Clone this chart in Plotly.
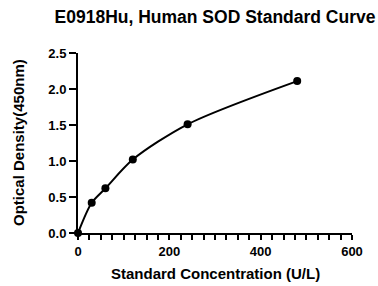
import plotly.graph_objects as go

concentration = [0, 30, 60, 120, 240, 480]
optical_density = [0.0, 0.42, 0.62, 1.02, 1.51, 2.11]

x_ticks = [0, 200, 400, 600]
y_ticks = [0.0, 0.5, 1.0, 1.5, 2.0, 2.5]
y_tick_labels = ["0.0", "0.5", "1.0", "1.5", "2.0", "2.5"]

FONT = "Liberation Sans, Arial, sans-serif"

fig = go.Figure()
fig.add_trace(go.Scatter(
    x=concentration, y=optical_density,
    mode="lines+markers",
    line=dict(color="black", width=2, shape="spline", smoothing=0.8),
    marker=dict(color="black", size=8),
    cliponaxis=False,
    showlegend=False,
))

fig.update_layout(
    width=378, height=286,
    margin=dict(l=78, r=26, t=53, b=53, autoexpand=False),
    paper_bgcolor="white", plot_bgcolor="white",
    title=dict(text="<b>E0918Hu, Human SOD Standard Curve</b>",
               x=0.5, xref="paper", y=1 - 17 / 286, yref="container", yanchor="middle",
               font=dict(family=FONT, size=17.5, color="black")),
    font=dict(family=FONT, color="black"),
    annotations=[
        dict(text="<b>Standard Concentration (U/L)</b>", xref="paper", yref="paper",
             x=0.5, y=0, xanchor="center", yanchor="middle", yshift=-40,
             showarrow=False, font=dict(family=FONT, size=15, color="black")),
        dict(text="<b>Optical Density(450nm)</b>", xref="paper", yref="paper",
             x=0, y=0.5, xanchor="center", yanchor="middle", xshift=-60,
             textangle=-90, showarrow=False,
             font=dict(family=FONT, size=15, color="black")),
    ],
)

fig.update_xaxes(
    range=[0, 600], tickvals=x_ticks, ticktext=[f"<b>{v}</b>" for v in x_ticks],
    showgrid=False, zeroline=False, automargin=False,
    showline=True, linecolor="black", linewidth=2,
    ticks="outside", ticklen=5, tickwidth=1.8, tickcolor="black",
    minor=dict(dtick=25, ticks="outside", ticklen=5, tickwidth=1.5, tickcolor="black"),
    tickfont=dict(family=FONT, size=13, color="black"),
)
fig.update_yaxes(
    range=[0, 2.5], tickvals=y_ticks, ticktext=[f"<b>{t}</b>" for t in y_tick_labels],
    showgrid=False, zeroline=False, automargin=False,
    showline=True, linecolor="black", linewidth=2,
    ticks="outside", ticklen=7, tickwidth=1.8, tickcolor="black",
    tickfont=dict(family=FONT, size=13, color="black"),
)

fig.write_html("out.html", config={"displayModeBar": False},
               post_script="document.body.style.margin='0';")
